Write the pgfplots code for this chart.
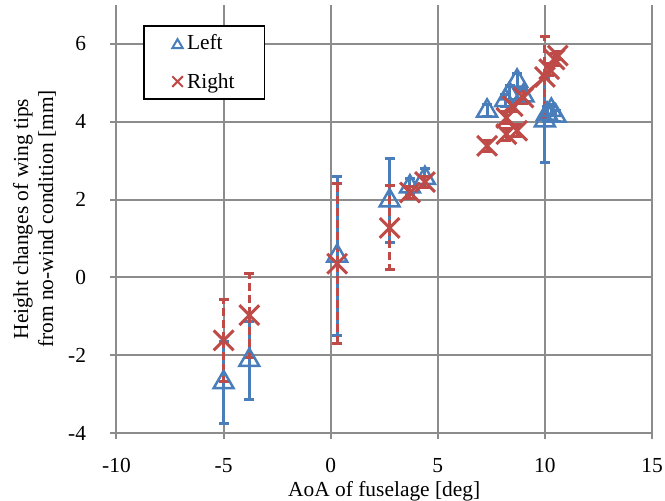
\documentclass[border=0pt]{standalone}
\usepackage{pgfplots}
\pgfplotsset{compat=1.18}
\usepackage{pgfplotstable}
\usepackage{fontspec}
\setmainfont{Liberation Serif}
\definecolor{lblue}{HTML}{4A7EBB}
\definecolor{rred}{HTML}{BE4B48}
\definecolor{gridg}{HTML}{8C8C8C}

\pgfplotstableread{
x y e
-5.0 -2.70 1.05
-3.8 -2.13 1.00
0.3 0.55 2.05
2.75 1.97 1.08
3.7 2.33 0.20
4.4 2.55 0.25
7.3 4.28 0.15
8.15 4.55 0.15
8.35 4.72 0.20
8.7 5.05 0.20
9.0 4.67 0.15
10.0 4.03 1.08
10.1 4.20 0.20
10.3 4.30 0.15
10.5 4.15 0.15
}\lefttab

\pgfplotstableread{
x y e
-5.0 -1.62 1.05
-3.8 -0.97 1.08
0.3 0.35 2.05
2.75 1.27 1.08
3.7 2.18 0.15
4.4 2.45 0.15
7.3 3.38 0.15
8.2 4.10 0.15
8.2 3.68 0.15
8.7 3.77 0.15
8.5 4.40 0.15
9.0 4.62 0.15
10.0 5.15 1.05
10.2 5.35 0.15
10.45 5.60 0.15
10.6 5.70 0.10
}\righttab

\begin{document}
\begin{tikzpicture}
\useasboundingbox (-116.5bp,-68bp) rectangle (548.5bp,433bp);
\begin{axis}[
  scale only axis,
  width=535.5bp, height=428bp,
  at={(0,0)}, anchor=south west,
  xmin=-10, xmax=15, ymin=-4, ymax=7,
  xtick={-10,-5,...,15}, ytick={-4,-2,...,6},
  axis lines=left,
  axis line style={-, draw=gridg, line width=2bp},
  grid=major,
  major grid style={draw=gridg, line width=2bp},
  tick align=outside,
  major tick length=6bp,
  tick style={draw=gridg, line width=2bp},
  /pgf/number format/assume math mode=true,
  tick label style={font=\fontsize{21.5}{25}\selectfont},
  xticklabel style={yshift=-16bp},
  yticklabel style={xshift=-21bp},
  label style={font=\fontsize{21.5}{25}\selectfont},
  xlabel={AoA of fuselage [deg]},
  xlabel style={at={(axis description cs:0.5,-0.136)}, anchor=center},
  ylabel={Height changes of wing tips\\from no-wind condition [mm]},
  ylabel style={at={(axis description cs:-0.153,0.5)}, anchor=center, align=center},
  legend style={at={(axis description cs:0.05,0.953)}, anchor=north west,
    draw=black, line width=1.5bp, fill=white,
    font=\fontsize{21.5}{25}\selectfont,
    inner xsep=16bp, inner ysep=7bp, row sep=18bp},
  legend cell align=left,
  clip=false,
]
\addplot[only marks, mark=triangle, mark size=11.5bp, draw=lblue, line width=2.5bp,
  mark options={solid, fill=none, draw=lblue},
  legend image code/.code={\path (0bp,0bp) (22bp,0bp); \draw[lblue, line width=2bp] plot[mark=triangle, mark size=6bp] coordinates {(16bp,-2bp)};},
  error bars/.cd, y dir=both, y explicit,
  error bar style={draw=lblue, line width=3bp, solid},
  error mark options={rotate=90, mark size=5bp, line width=3bp, draw=lblue, solid}]
  table[x=x, y=y, y error=e]{\lefttab};
\addlegendentry{Left\hspace*{12bp}}
\addplot[only marks, mark=x, mark size=14bp, draw=rred, line width=3bp,
  mark options={solid, draw=rred},
  legend image code/.code={\path (0bp,0bp) (22bp,0bp); \draw[rred, line width=2bp] plot[mark=x, mark size=7.5bp] coordinates {(16bp,0bp)};},
  error bars/.cd, y dir=both, y explicit,
  error bar style={draw=rred, line width=3bp, dash pattern=on 8bp off 4bp},
  error mark options={rotate=90, mark size=5bp, line width=3bp, draw=rred, solid}]
  table[x=x, y=y, y error=e]{\righttab};
\addlegendentry{Right\hspace*{12bp}}
\addplot[rred, line width=3bp, no marks, forget plot] coordinates {(8.1,4.25) (10.0,5.15)};
\end{axis}
\end{tikzpicture}
\end{document}
